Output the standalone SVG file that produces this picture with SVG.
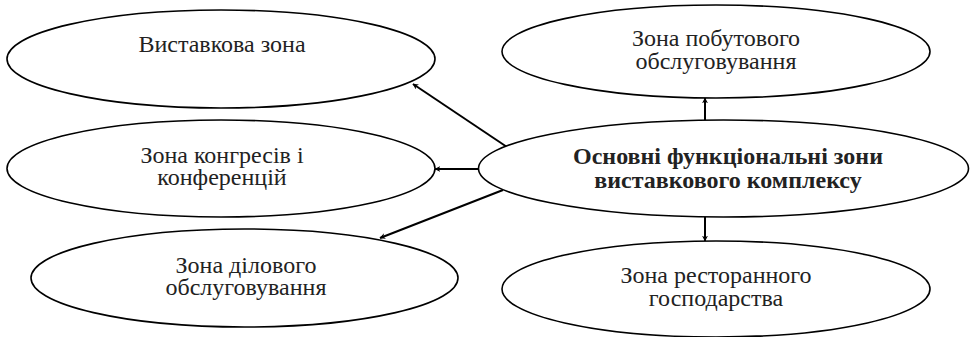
<svg xmlns="http://www.w3.org/2000/svg" width="971" height="337" viewBox="0 0 971 337">
<style>
.n ellipse{fill:#fff;stroke:#000;stroke-width:1.6}
.t{font-family:"Liberation Serif","Times New Roman",serif;font-size:24px;fill:#222;text-anchor:middle}
.b{font-weight:bold}
.c line{stroke:#000;stroke-width:2;marker-end:url(#ah)}
</style>
<defs>
<marker id="ah" viewBox="0 0 10 10" refX="9" refY="5" markerWidth="6" markerHeight="6" orient="auto" markerUnits="userSpaceOnUse">
<path d="M0,0 L10,5 L0,10 L3,5 z" fill="#000"/>
</marker>
</defs>
<rect width="971" height="337" fill="#fff"/>
<g class="c" id="connectors">
<line x1="507" y1="147" x2="413" y2="84"/>
<line x1="478" y1="169" x2="435" y2="169"/>
<line x1="503" y1="190" x2="380" y2="238"/>
<line x1="705" y1="120" x2="705" y2="98"/>
<line x1="705" y1="217" x2="705" y2="241"/>
</g>
<g class="n" id="n1">
<ellipse cx="221" cy="59" rx="214" ry="49"/>
<text class="t" x="222" y="52">Виставкова зона</text>
</g>
<g class="n" id="n2">
<ellipse cx="221" cy="168.5" rx="214" ry="48.5"/>
<text class="t" x="222" y="163">Зона конгресів і</text>
<text class="t" x="222" y="185">конференцій</text>
</g>
<g class="n" id="n3">
<ellipse cx="244.5" cy="278" rx="213.5" ry="49"/>
<text class="t" x="246" y="273">Зона ділового</text>
<text class="t" x="246" y="295">обслуговування</text>
</g>
<g class="n" id="n4">
<ellipse cx="716" cy="51.5" rx="214" ry="46.5"/>
<text class="t" x="716" y="46">Зона побутового</text>
<text class="t" x="716" y="69">обслуговування</text>
</g>
<g class="n" id="center">
<ellipse cx="723.5" cy="168.5" rx="245" ry="48.5"/>
<text class="t b" x="728" y="164">Основні функціональні зони</text>
<text class="t b" x="728" y="188">виставкового комплексу</text>
</g>
<g class="n" id="n5">
<ellipse cx="716" cy="289" rx="214" ry="48"/>
<text class="t" x="716" y="283">Зона ресторанного</text>
<text class="t" x="716" y="306">господарства</text>
</g>
</svg>
